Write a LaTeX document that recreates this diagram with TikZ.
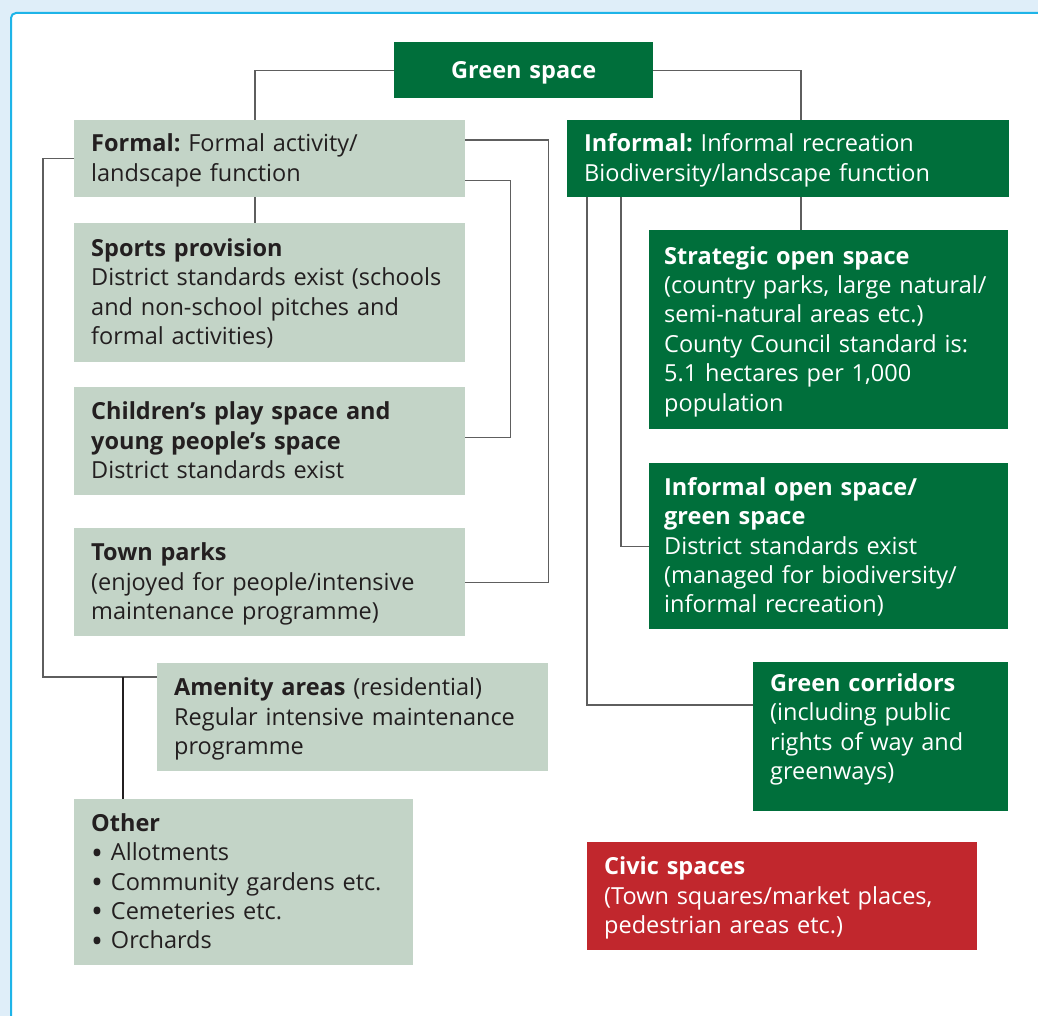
\documentclass[tikz,border=0pt]{standalone}
\usepackage{fontspec}
\setmainfont{Open Sans}
\usetikzlibrary{calc}
\frenchspacing
\definecolor{pageblue}{HTML}{DFEEF9}
\definecolor{frameblue}{HTML}{1EB4E8}
\definecolor{sage}{HTML}{C3D4C7}
\definecolor{parkgreen}{HTML}{006F3B}
\definecolor{civicred}{HTML}{C1272D}
\definecolor{inkdark}{HTML}{231F20}
\definecolor{wiregray}{HTML}{5E5E5E}
% a block of lines that never wrap, set 2pt lower than its box
\newcommand\boxlines[1]{\raisebox{-2pt}[\height][\depth]{\begin{tabular}{@{}l@{}}#1\end{tabular}}}
\newcommand\dotitem{\raisebox{-3.5pt}{\scalebox{1.35}{•}}\ }
\begin{document}
\begin{tikzpicture}[x=1pt,y=-1pt,
  every node/.style={font=\fontsize{23.5}{29.4}\selectfont},
  card/.style={rectangle, anchor=north west, align=left, inner xsep=17pt, inner ysep=0pt},
  sagecard/.style={card, fill=sage, text=inkdark},
  greencard/.style={card, fill=parkgreen, text=white},
  redcard/.style={card, fill=civicred, text=white},
  wire/.style={draw=wiregray, line width=1.3pt},
  darkwire/.style={draw=inkdark, line width=2pt}]
\useasboundingbox (0,0) rectangle (1038,1016);
% page background and framed panel
\begin{scope}
  \clip (0,0) rectangle (1038,1016);
  \fill[pageblue] (0,0) rectangle (1038,1016);
  \draw[frameblue, line width=2pt, fill=white, rounded corners=5pt] (11,13) rectangle (1070,1050);
\end{scope}

% root
\node[greencard, align=center, text width=225pt, minimum height=56pt, font=\fontsize{23.5}{29.4}\selectfont\bfseries] (root) at (394,42) {\raisebox{-2.5pt}[\height][\depth]{Green space}};

% formal branch
\node[sagecard, text width=357pt, minimum height=77pt] (formal) at (74,120)
  {\boxlines{\textbf{Formal:} Formal activity/\\landscape function}};
\node[sagecard, text width=357pt, minimum height=139pt] (sports) at (74,223)
  {\boxlines{\textbf{Sports provision}\\District standards exist (schools\\and non-school pitches and\\formal activities)}};
\node[sagecard, text width=357pt, minimum height=108pt] (play) at (74,387)
  {\boxlines{\textbf{Children’s play space and}\\\textbf{young people’s space}\\District standards exist}};
\node[sagecard, text width=357pt, minimum height=108pt] (parks) at (74,528)
  {\boxlines{\textbf{Town parks}\\(enjoyed for people/intensive\\maintenance programme)}};
\node[sagecard, text width=357pt, minimum height=108pt] (amenity) at (157,663)
  {\boxlines{\textbf{Amenity areas} (residential)\\Regular intensive maintenance\\programme}};
\node[sagecard, text width=305pt, minimum height=166pt] (other) at (74,799)
  {\boxlines{\textbf{Other}\\\dotitem Allotments\\\dotitem Community gardens etc.\\\dotitem Cemeteries etc.\\\dotitem Orchards}};

% informal branch
\node[greencard, text width=408pt, minimum height=77pt] (informal) at (567,120)
  {\boxlines{\textbf{Informal:} Informal recreation\\Biodiversity/landscape function}};
\node[greencard, inner xsep=15pt, text width=329pt, minimum height=199pt] (strategic) at (649,230)
  {\boxlines{\textbf{Strategic open space}\\(country parks, large natural/\\semi-natural areas etc.)\\County Council standard is:\\5.1 hectares per 1,000\\population}};
\node[greencard, inner xsep=15pt, text width=329pt, minimum height=166pt] (openspace) at (649,463)
  {\boxlines{\textbf{Informal open space/}\\\textbf{green space}\\District standards exist\\(managed for biodiversity/\\informal recreation)}};
\node[greencard, text width=221pt, minimum height=149pt] (corridors) at (753,662)
  {\boxlines{\textbf{Green corridors}\\(including public\\rights of way and\\greenways)\\[18pt]}};

% civic spaces
\node[redcard, text width=356pt, minimum height=108pt] (civic) at (587,842)
  {\boxlines{\textbf{Civic spaces}\\(Town squares/market places,\\pedestrian areas etc.)}};

% root to the two branches
\draw[wire] (root.west) -| ([xshift=181pt]formal.north west);
\draw[wire] (root.east) -| ([xshift=234pt]informal.north west);

% formal links
\draw[wire] ([xshift=181pt]formal.south west) -- ([xshift=181pt]sports.north west);
\draw[wire] ([yshift=-20pt]formal.north east) -- ++(83,0) |- (parks.east);
\draw[wire] ([yshift=17pt]formal.south east) -- ++(45,0) |- ([yshift=4pt]play.east);
\coordinate (amjoin) at ([yshift=-14pt]amenity.north west);
\draw[wire] (formal.west) -- ++(-31,0) |- (amjoin);
\coordinate (othertop) at ([xshift=49pt]other.north west);
\draw[darkwire] (othertop) -- (othertop |- amjoin);

% informal links
\draw[wire] ([xshift=20pt]informal.south west) |- ([yshift=-43pt]corridors.north west);
\draw[wire] ([xshift=54pt]informal.south west) |- (openspace.west);
\draw[wire] ([xshift=234pt]informal.south west) -- ([xshift=152pt]strategic.north west);
\end{tikzpicture}
\end{document}
